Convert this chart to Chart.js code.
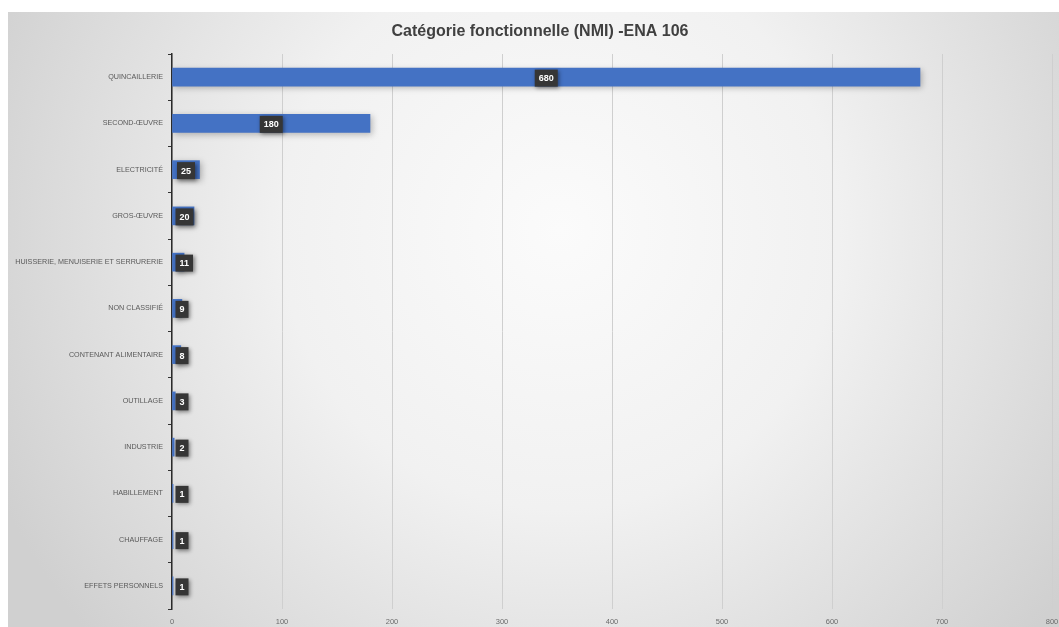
<!DOCTYPE html>
<html>
<head>
<meta charset="utf-8">
<script src="https://cdn.jsdelivr.net/npm/chart.js@4.4.1/dist/chart.umd.min.js"></script>
<style>
  html, body { margin: 0; padding: 0; background: #fff; }
  #wrap { width: 1059px; height: 627px; }
</style>
</head>
<body>
<div id="wrap"><canvas id="chart" width="1059" height="627"></canvas></div>
<script>
const title = 'Catégorie fonctionnelle (NMI) -ENA 106';
const categories = [
	'QUINCAILLERIE',
	'SECOND-ŒUVRE',
	'ELECTRICITÉ',
	'GROS-ŒUVRE',
	'HUISSERIE, MENUISERIE ET SERRURERIE',
	'NON CLASSIFIÉ',
	'CONTENANT ALIMENTAIRE',
	'OUTILLAGE',
	'INDUSTRIE',
	'HABILLEMENT',
	'CHAUFFAGE',
	'EFFETS PERSONNELS'
];
const counts = [680, 180, 25, 20, 11, 9, 8, 3, 2, 1, 1, 1];
const xTicks = [0, 100, 200, 300, 400, 500, 600, 700, 800];

const FONT = "'Liberation Sans', Arial, sans-serif";

// grey frame with a light centre, like the office theme
const backdrop = {
	id: 'backdrop',
	beforeDraw(chart) {
		const ctx = chart.ctx;
		ctx.save();
		ctx.fillStyle = '#ffffff';
		ctx.fillRect(0, 0, chart.width, chart.height);
		const g = ctx.createRadialGradient(560, 230, 0, 560, 230, 620);
		g.addColorStop(0, '#fbfbfb');
		g.addColorStop(0.45, '#f1f1f1');
		g.addColorStop(1, '#d0d0d0');
		ctx.fillStyle = g;
		ctx.fillRect(8, 12, chart.width - 8, chart.height - 12);
		ctx.restore();
	}
};

const heading = {
	id: 'heading',
	afterDraw(chart) {
		const ctx = chart.ctx;
		ctx.save();
		ctx.font = 'bold 16px ' + FONT;
		ctx.fillStyle = '#404040';
		ctx.textAlign = 'center';
		ctx.textBaseline = 'middle';
		ctx.fillText(title, 540, 32);
		ctx.restore();
	}
};

// soft shadow under the bars
const barShadow = {
	id: 'barShadow',
	beforeDatasetsDraw(chart) {
		const ctx = chart.ctx;
		ctx.save();
		ctx.shadowColor = 'rgba(0,0,0,0.25)';
		ctx.shadowBlur = 6;
		ctx.shadowOffsetX = 2;
		ctx.shadowOffsetY = 2;
	},
	afterDatasetsDraw(chart) {
		chart.ctx.restore();
	}
};

// dark value boxes centred on each bar, kept clear of the axis
const valueBoxes = {
	id: 'valueBoxes',
	afterDatasetsDraw(chart) {
		const ctx = chart.ctx;
		const meta = chart.getDatasetMeta(0);
		const left = chart.chartArea.left;
		ctx.save();
		ctx.font = 'bold 9px ' + FONT;
		ctx.textAlign = 'center';
		ctx.textBaseline = 'middle';
		meta.data.forEach((bar, i) => {
			const text = String(counts[i]);
			const w = ctx.measureText(text).width + 8;
			const h = 17;
			let x = (bar.base + bar.x) / 2 - w / 2;
			if (x < left + 3.5) x = left + 3.5;
			const y = bar.y - h / 2 + 1;
			ctx.shadowColor = 'rgba(0,0,0,0.45)';
			ctx.shadowBlur = 4;
			ctx.shadowOffsetX = 1.5;
			ctx.shadowOffsetY = 1.5;
			ctx.fillStyle = '#363636';
			ctx.fillRect(x, y, w, h);
			ctx.shadowColor = 'transparent';
			ctx.fillStyle = '#ffffff';
			ctx.fillText(text, x + w / 2, y + h / 2 + 0.5);
		});
		ctx.restore();
	}
};

const ctx = document.getElementById('chart').getContext('2d');

new Chart(ctx, {
	type: 'bar',
	data: {
		labels: categories,
		datasets: [
			{
				data: counts,
				backgroundColor: '#4472c4',
				borderColor: '#4472c4',
				borderWidth: 0,
				barThickness: 18
			}
		]
	},
	options: {
		indexAxis: 'y',
		responsive: false,
		animation: false,
		layout: {
			padding: { top: 54, right: 7, bottom: 0, left: 0 }
		},
		plugins: {
			legend: { display: false },
			title: { display: false },
			tooltip: { enabled: false }
		},
		scales: {
			x: {
				min: 0,
				max: 800,
				afterBuildTicks: scale => {
					scale.ticks = xTicks.map(v => ({ value: v }));
				},
				afterFit: scale => {
					scale.paddingLeft = 0;
					scale.paddingRight = 0;
					scale.height = 18;
				},
				grid: {
					color: '#cfcfcf',
					lineWidth: 1,
					drawTicks: false
				},
				border: { display: false },
				ticks: {
					padding: 8,
					color: '#6b6b6b',
					font: { family: FONT, size: 7.5 }
				}
			},
			y: {
				afterFit: scale => {
					scale.width = 172;
				},
				grid: {
					drawOnChartArea: false,
					tickLength: 4,
					color: '#333333',
					offset: true
				},
				border: { display: true, color: '#2b2b2b', width: 1.5 },
				ticks: {
					padding: 5,
					color: '#595959',
					font: { family: FONT, size: 7.2 }
				}
			}
		}
	},
	plugins: [backdrop, barShadow, valueBoxes, heading]
});
</script>
</body>
</html>
